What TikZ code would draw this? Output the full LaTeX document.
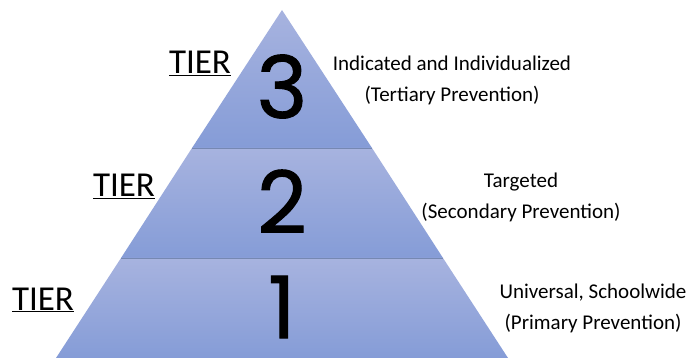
\documentclass[tikz,border=0pt]{standalone}
\usepackage{fontspec}
\setmainfont{Carlito}
\newfontfamily\digitfont[FakeBold=1.2]{Poppins}
\usetikzlibrary{positioning}
\definecolor{tiertop}{RGB}{167,179,223}
\definecolor{tierbot}{RGB}{133,156,215}
\definecolor{tierline}{RGB}{118,136,178}
\tikzset{
  tierband/.style={top color=tiertop,bottom color=tierbot},
  tiernum/.style={font=\digitfont\fontsize{86}{86}\selectfont,anchor=base,inner sep=0pt,text depth=0pt},
  tierword/.style={font=\fontsize{35}{35}\selectfont,anchor=base,inner sep=0pt},
  tiernote/.style={font=\fontsize{21}{31}\selectfont,align=center,inner sep=0pt}
}

\begin{document}
\begin{tikzpicture}[x=1pt,y=-1pt]
  \useasboundingbox (0,0) rectangle (691,358);
  % the three bands of the pyramid
  \shade[tierband] (282,10) -- (372,148) -- (192,148) -- cycle;
  \shade[tierband] (192,148) -- (372,148) -- (443,258) -- (121,258) -- cycle;
  \shade[tierband] (121,258) -- (443,258) -- (508,358) -- (56,358) -- cycle;
  \draw[tierline] (192,148) -- (372,148);
  \draw[tierline] (121,258) -- (443,258);

  \node[tiernum] (n_3) at (282,118) {3};
  \node[tiernum] (n_2) at (282,233) {2};
  \node[tiernum] (n_1) at (282,338) {1};

  \node[tierword] (t_3) at (200,74) {\underline{TIER}};
  \node[tierword] (t_2) at (124,197) {\underline{TIER}};
  \node[tierword] (t_1) at (43,310) {\underline{TIER}};

  \node[tiernote] (d_3) at (452,80) {Indicated and Individualized\\(Tertiary Prevention)};
  \node[tiernote] (d_2) at (521,197) {Targeted\\(Secondary Prevention)};
  \node[tiernote] (d_1) at (593,308) {Universal, Schoolwide\\(Primary Prevention)};
\end{tikzpicture}
\end{document}
